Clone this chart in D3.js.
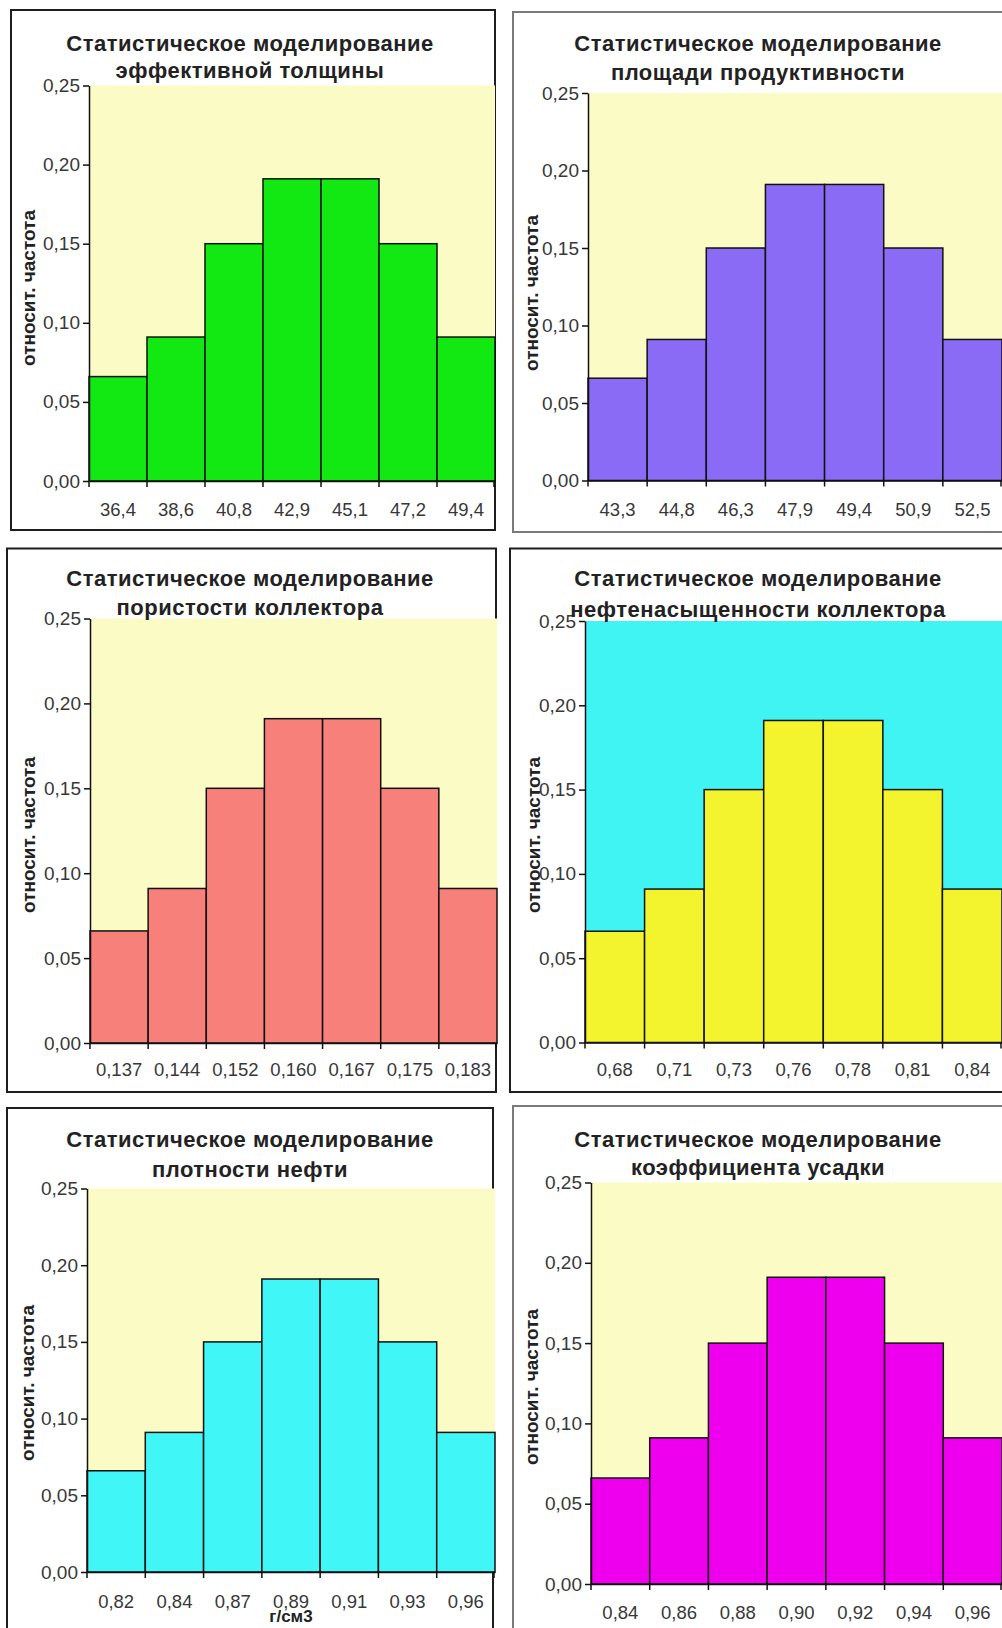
<!DOCTYPE html>
<html>
<head>
<meta charset="utf-8">
<script src="https://cdn.jsdelivr.net/npm/d3@7"></script>
<style>
  body { margin: 0; background: #fff; }
  svg { display: block; font-family: "Liberation Sans", Arial, sans-serif; }
</style>
</head>
<body>
<svg id="chart" width="1002" height="1628"></svg>
<script>
// chart titles (two lines each)
var titles = [
  ["Статистическое моделирование", "эффективной толщины"],
  ["Статистическое моделирование", "площади продуктивности"],
  ["Статистическое моделирование", "пористости коллектора"],
  ["Статистическое моделирование", "нефтенасыщенности коллектора"],
  ["Статистическое моделирование", "плотности нефти"],
  ["Статистическое моделирование", "коэффициента усадки"]
];

// bin labels under each histogram
var binsThickness = ["36,4", "38,6", "40,8", "42,9", "45,1", "47,2", "49,4"];
var binsArea      = ["43,3", "44,8", "46,3", "47,9", "49,4", "50,9", "52,5"];
var binsPorosity  = ["0,137", "0,144", "0,152", "0,160", "0,167", "0,175", "0,183"];
var binsOilSat    = ["0,68", "0,71", "0,73", "0,76", "0,78", "0,81", "0,84"];
var binsDensity   = ["0,82", "0,84", "0,87", "0,89", "0,91", "0,93", "0,96"];
var binsShrink    = ["0,84", "0,86", "0,88", "0,90", "0,92", "0,94", "0,96"];

// relative frequencies (same shape in every panel)
var relFreq = [0.066, 0.091, 0.150, 0.191, 0.191, 0.150, 0.091];

var yTicks = [0, 0.05, 0.10, 0.15, 0.20, 0.25];
var yTitle = "относит. частота";
var xTitles = ["", "", "", "", "г/см3", ""];

var bins = [binsThickness, binsArea, binsPorosity, binsOilSat, binsDensity, binsShrink];

// where each panel sits on the page
var layout = [
  {frame: [11, 10, 495, 530],   stroke: "#1e1e1e", plot: [89, 85.5, 495, 481],     tx: 250, ty: [43.5, 70.6],   xl: 510,    yl: [28, 288],   bg: "#fbfbc6", bar: "#12e812"},
  {frame: [513, 12, 1003, 532], stroke: "#7a7a7a", plot: [588, 93, 1002, 480.5],   tx: 758, ty: [43, 72],       xl: 510,    yl: [531, 293],  bg: "#fbfbc6", bar: "#8a6bf5"},
  {frame: [7, 548.5, 496, 1092], stroke: "#1e1e1e", plot: [90, 618.5, 497, 1043],  tx: 250, ty: [578, 607],     xl: 1070,   yl: [28, 835],   bg: "#fbfbc6", bar: "#f7807b"},
  {frame: [510, 548.5, 1003, 1092], stroke: "#1e1e1e", plot: [585, 621, 1002, 1042.5], tx: 758, ty: [578, 609], xl: 1070,   yl: [533, 835],  bg: "#40f4f4", bar: "#f4f42e"},
  {frame: [7, 1108, 493, 1640], stroke: "#1e1e1e", plot: [87, 1188.5, 495, 1572],  tx: 250, ty: [1139.5, 1169], xl: 1601.5, yl: [27, 1383],  bg: "#fbfbc6", bar: "#40f6f6"},
  {frame: [513, 1106, 1003, 1640], stroke: "#7a7a7a", plot: [591, 1182.5, 1002, 1584], tx: 758, ty: [1139.5, 1167.5], xl: 1613, yl: [531, 1387], bg: "#fbfbc6", bar: "#ee00ee"}
];

var svg = d3.select("#chart");
var fmt = function(d) { return d3.format(".2f")(d).replace(".", ","); };

layout.forEach(function(L, i) {
  var g = svg.append("g");
  var left = L.plot[0], top = L.plot[1], right = L.plot[2], bottom = L.plot[3];

  // panel frame
  g.append("rect")
      .attr("x", L.frame[0]).attr("y", L.frame[1])
      .attr("width", L.frame[2] - L.frame[0])
      .attr("height", L.frame[3] - L.frame[1])
      .attr("fill", "#fff")
      .attr("stroke", L.stroke)
      .attr("stroke-width", 2);

  var x = d3.scaleBand().domain(bins[i]).range([left, right]).padding(0);
  var y = d3.scaleLinear().domain([0, 0.25]).range([bottom, top]);

  // plot area background
  g.append("rect")
      .attr("x", left).attr("y", top)
      .attr("width", right - left).attr("height", bottom - top)
      .attr("fill", L.bg);

  // bars
  g.selectAll("rect.bar")
    .data(relFreq)
    .enter().append("rect")
      .attr("class", "bar")
      .attr("x", function(d, j) { return x(bins[i][j]); })
      .attr("y", function(d) { return y(d); })
      .attr("width", x.bandwidth())
      .attr("height", function(d) { return y(0) - y(d); })
      .attr("fill", L.bar)
      .attr("stroke", "#111")
      .attr("stroke-width", 1.5);

  // y axis
  var ya = g.append("g")
      .attr("transform", "translate(" + left + ",0)")
      .call(d3.axisLeft(y).tickValues(yTicks).tickFormat(fmt).tickSize(6).tickSizeOuter(0).tickPadding(3));
  ya.select(".domain").attr("stroke", "#111").attr("stroke-width", 1.5);
  ya.selectAll(".tick line").attr("stroke", "#111").attr("stroke-width", 1.5);
  ya.selectAll("text").attr("font-size", 19).attr("fill", "#383838");

  // x axis: labels centred in bins, ticks on the bin edges
  var xa = g.append("g")
      .attr("transform", "translate(0," + bottom + ")")
      .call(d3.axisBottom(x).tickSize(0).tickSizeOuter(0));
  xa.select(".domain").attr("stroke", "#111").attr("stroke-width", 1.5);
  xa.selectAll("text")
      .attr("y", L.xl - bottom)
      .attr("dy", "0.35em")
      .attr("font-size", 18.5)
      .attr("fill", "#383838");

  var edges = bins[i].map(function(b) { return x(b); }).concat([right - 1]);
  g.selectAll("line.edge")
    .data(edges)
    .enter().append("line")
      .attr("class", "edge")
      .attr("x1", function(d) { return d; }).attr("x2", function(d) { return d; })
      .attr("y1", bottom).attr("y2", bottom + 6)
      .attr("stroke", "#111").attr("stroke-width", 1.5);

  // title
  g.selectAll("text.title")
    .data(titles[i])
    .enter().append("text")
      .attr("class", "title")
      .attr("x", L.tx)
      .attr("y", function(d, j) { return L.ty[j]; })
      .attr("dy", "0.35em")
      .attr("text-anchor", "middle")
      .attr("font-size", 22)
      .attr("letter-spacing", 0.5)
      .attr("font-weight", "bold")
      .attr("fill", "#222")
      .text(function(d) { return d; });

  // y title
  g.append("text")
      .attr("transform", "translate(" + L.yl[0] + "," + L.yl[1] + ") rotate(-90)")
      .attr("dy", "0.35em")
      .attr("text-anchor", "middle")
      .attr("font-size", 19)
      .attr("font-weight", "bold")
      .attr("fill", "#222")
      .text(yTitle);

  if (xTitles[i]) {
    g.append("text")
        .attr("x", (left + right) / 2)
        .attr("y", L.xl + 15)
        .attr("dy", "0.35em")
        .attr("text-anchor", "middle")
        .attr("font-size", 17)
        .attr("font-weight", "bold")
        .attr("fill", "#222")
        .text(xTitles[i]);
  }
});
</script>
</body>
</html>
